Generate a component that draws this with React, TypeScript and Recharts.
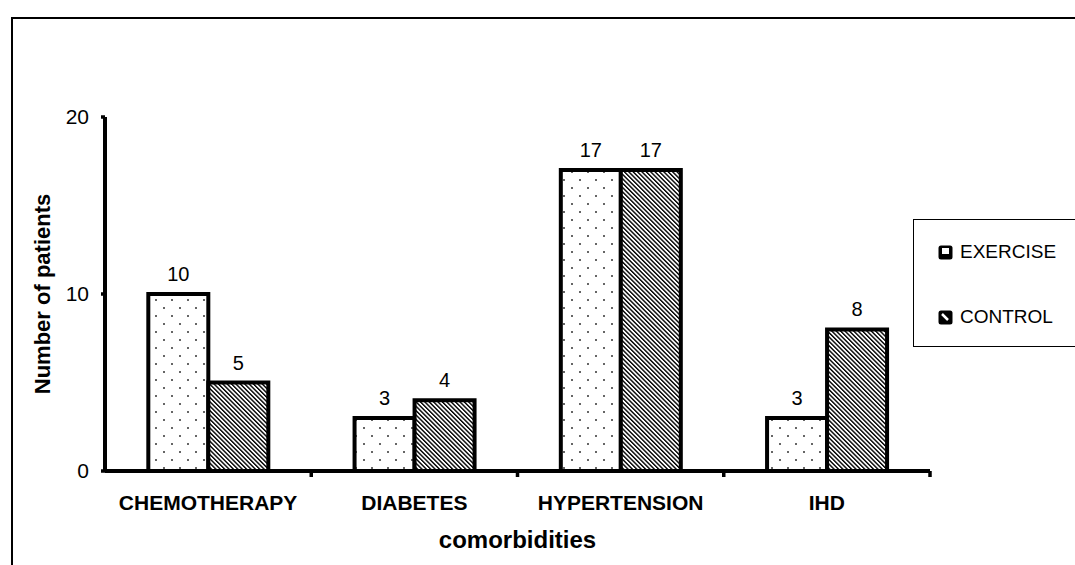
import { BarChart, Bar, XAxis, YAxis, LabelList, Label } from "recharts";

const CATEGORIES = ["CHEMOTHERAPY", "DIABETES", "HYPERTENSION", "IHD"];
const EXERCISE = [10, 3, 17, 3];
const CONTROL = [5, 4, 17, 8];
const Y_TICKS = [0, 10, 20];

const SERIES = [
  { key: "exercise", name: "EXERCISE", fill: "url(#dots)" },
  { key: "control", name: "CONTROL", fill: "url(#stripes)" },
];

const data = CATEGORIES.map((name, i) => ({
  name,
  exercise: EXERCISE[i],
  control: CONTROL[i],
}));

const W = 1075;
const H = 565;
const MARGIN = { top: 117, right: 145, bottom: 14, left: 45 };
const Y_WIDTH = 60;
const TICK_MARGIN = 24;
const FONT = "Arial, 'Liberation Sans', sans-serif";

function CategoryTick(props: any) {
  const { x, y, payload, index, visibleTicksCount } = props;
  const plotW = W - MARGIN.left - Y_WIDTH - MARGIN.right;
  const half = payload?.offset || plotW / CATEGORIES.length / 2;
  const axisY = y - TICK_MARGIN;
  const isLast = index === visibleTicksCount - 1;
  return (
    <g>
      {index > 0 && (
        <line x1={x - half} x2={x - half} y1={axisY} y2={axisY + 6} stroke="#000" strokeWidth={3.5} />
      )}
      {isLast && (
        <line x1={x + half} x2={x + half} y1={axisY} y2={axisY + 6} stroke="#000" strokeWidth={3.5} />
      )}
      <text
        x={x}
        y={y}
        dy="0.71em"
        textAnchor="middle"
        fontFamily={FONT}
        fontWeight="bold"
        fontSize={21}
        fill="#000"
      >
        {payload.value}
      </text>
    </g>
  );
}

// small legend swatch: black rounded square with a white mark
function LegendIcon({ kind }: { kind: string }) {
  return (
    <svg width={15} height={15} style={{ display: "block" }}>
      <rect x={0.5} y={0.5} width={14} height={14} rx={2.5} fill="#000" />
      {kind === "exercise" ? (
        <rect x={4} y={3} width={7} height={6} fill="#fff" />
      ) : (
        <line x1={4} y1={4} x2={10} y2={10} stroke="#fff" strokeWidth={2.5} />
      )}
    </svg>
  );
}

export default function App() {
  return (
    <div
      style={{
        position: "absolute",
        left: 0,
        top: 0,
        width: W,
        height: H,
        overflow: "hidden",
        background: "#fff",
        fontFamily: FONT,
      }}
    >
      <div
        style={{
          position: "absolute",
          left: 11,
          top: 17,
          width: 1200,
          height: 700,
          borderLeft: "2px solid #000",
          borderTop: "2px solid #000",
        }}
      />
      <div style={{ position: "absolute", left: 0, top: 0 }}>
        <BarChart
          width={W}
          height={H}
          data={data}
          margin={MARGIN}
          barCategoryGap="21%"
          barGap={0}
        >
          <defs>
            <pattern id="dots" width="16" height="16" patternUnits="userSpaceOnUse">
              <rect width="16" height="16" fill="#fff" />
              <circle cx="4" cy="4" r="1" fill="#333" />
              <circle cx="12" cy="12" r="1" fill="#333" />
            </pattern>
            <pattern
              id="stripes"
              width="3.1"
              height="3.1"
              patternUnits="userSpaceOnUse"
              patternTransform="rotate(-45)"
            >
              <rect width="3.1" height="3.1" fill="#fff" />
              <rect width="1.4" height="3.1" fill="#000" />
            </pattern>
          </defs>
          <XAxis
            dataKey="name"
            height={80}
            axisLine={{ stroke: "#000", strokeWidth: 4 }}
            tickLine={false}
            tickSize={0}
            tickMargin={TICK_MARGIN}
            tick={<CategoryTick />}
            interval={0}
          >
            <Label
              value="comorbidities"
              position="insideBottom"
              offset={3}
              style={{ fontFamily: FONT, fontWeight: "bold", fontSize: 24, fill: "#000" }}
            />
          </XAxis>
          <YAxis
            width={Y_WIDTH}
            domain={[0, 20]}
            ticks={Y_TICKS}
            axisLine={{ stroke: "#000", strokeWidth: 4 }}
            tickLine={{ stroke: "#000", strokeWidth: 3.5 }}
            tickSize={4}
            tickMargin={12}
            tick={{ fill: "#000", fontSize: 21, fontFamily: FONT }}
          >
            <Label
              value="Number of patients"
              angle={-90}
              position="insideLeft"
              offset={-3}
              style={{
                textAnchor: "middle",
                fontFamily: FONT,
                fontWeight: "bold",
                fontSize: 22,
                fill: "#000",
              }}
            />
          </YAxis>
          {SERIES.map((s) => (
            <Bar
              key={s.key}
              dataKey={s.key}
              name={s.name}
              fill={s.fill}
              stroke="#000"
              strokeWidth={4}
              isAnimationActive={false}
            >
              <LabelList
                dataKey={s.key}
                position="top"
                offset={13}
                style={{ fill: "#000", fontSize: 20, fontFamily: FONT }}
              />
            </Bar>
          ))}
        </BarChart>
      </div>
      <div
        style={{
          position: "absolute",
          left: 913,
          top: 219,
          width: 200,
          height: 128,
          border: "1.5px solid #000",
          boxSizing: "border-box",
        }}
      >
        {SERIES.map((s, i) => (
          <div
            key={s.key}
            style={{
              position: "absolute",
              left: 24,
              top: 21 + i * 65,
              display: "flex",
              alignItems: "center",
              gap: 7,
              fontSize: 19,
              color: "#000",
            }}
          >
            <LegendIcon kind={s.key} />
            <span>{s.name}</span>
          </div>
        ))}
      </div>
    </div>
  );
}
